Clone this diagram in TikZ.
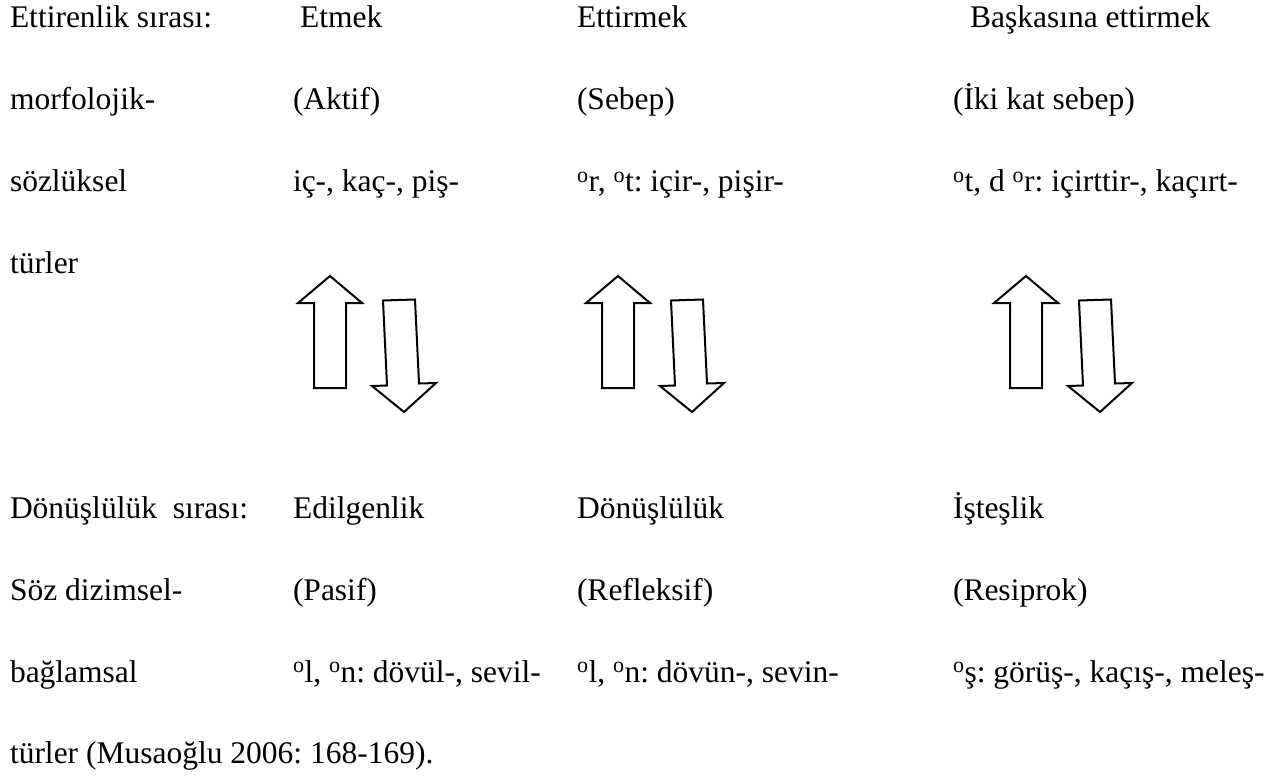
\documentclass[tikz,border=0pt]{standalone}
\usepackage{fontspec}
\setmainfont{Liberation Serif}
\frenchspacing
\newcommand{\dg}{\textsuperscript{o}}
\tikzset{
  txt/.style={anchor=base west, inner sep=0pt, outer sep=0pt,
              font=\fontsize{31.5}{38}\selectfont},
  blockarrow/.style={draw=black, line width=2pt, line join=miter},
  pics/updown/.style={code={
    % upward block arrow, tip at the origin
    \draw[blockarrow] (0,0) -- (32,27) -- (16,27) -- (16,112) -- (-16,112)
      -- (-16,27) -- (-32,27) -- cycle;
    % downward block arrow, slightly tilted
    \draw[blockarrow] (53,24.5) -- (85,23.5) -- (89,107.5) -- (106,107)
      -- (74,136) -- (42,110) -- (57,109.5) -- cycle;
  }}
}
\begin{document}
\begin{tikzpicture}[x=1pt, y=-1pt]
\useasboundingbox (0,0) rectangle (1287,776);

% column positions and row baselines (one line = 81.75)
\def\xa{10}\def\xb{293}\def\xc{577}\def\xd{953}
\def\ra{28}\def\rb{109.75}\def\rc{191.5}\def\rd{273.25}
\def\re{518.5}\def\rf{600.25}\def\rg{682}\def\rh{763.75}

% upper block: causative order
\node[txt] (l1) at (\xa,\ra) {Ettirenlik sırası:};
\node[txt] (l2) at (\xa,\rb) {morfolojik-};
\node[txt] (l3) at (\xa,\rc) {sözlüksel};
\node[txt] (l4) at (\xa,\rd) {türler};

\node[txt] (a1) at (\xb+7,\ra) {Etmek};
\node[txt] (a2) at (\xb,\rb) {(Aktif)};
\node[txt] (a3) at (\xb,\rc) {iç-, kaç-, piş-};

\node[txt] (s1) at (\xc,\ra) {Ettirmek};
\node[txt] (s2) at (\xc,\rb) {(Sebep)};
\node[txt] (s3) at (\xc,\rc) {\dg r, \dg t: içir-, pişir-};

\node[txt] (d1) at (\xd+17,\ra) {Başkasına ettirmek};
\node[txt] (d2) at (\xd,\rb) {(İki kat sebep)};
\node[txt] (d3) at (\xd,\rc) {\dg t, d \dg r: içirttir-, kaçırt-};

% paired arrows between the two orders
\pic at (330,276) {updown};
\pic at (618,276) {updown};
\pic at (1026,276) {updown};

% lower block: reflexive order
\node[txt] (m1) at (\xa,\re) {Dönüşlülük\ \ sırası:};
\node[txt] (m2) at (\xa,\rf) {Söz dizimsel-};
\node[txt] (m3) at (\xa,\rg) {bağlamsal};
\node[txt] (m4) at (\xa,\rh) {türler (Musaoğlu 2006: 168-169).};

\node[txt] (p1) at (\xb,\re) {Edilgenlik};
\node[txt] (p2) at (\xb,\rf) {(Pasif)};
\node[txt] (p3) at (\xb,\rg) {\dg l, \dg n: dövül-, sevil-};

\node[txt] (r1) at (\xc,\re) {Dönüşlülük};
\node[txt] (r2) at (\xc,\rf) {(Refleksif)};
\node[txt] (r3) at (\xc,\rg) {\dg l, \dg n: dövün-, sevin-};

\node[txt] (i1) at (\xd,\re) {İşteşlik};
\node[txt] (i2) at (\xd,\rf) {(Resiprok)};
\node[txt] (i3) at (\xd,\rg) {\dg ş: görüş-, kaçış-, meleş-};
\end{tikzpicture}
\end{document}
